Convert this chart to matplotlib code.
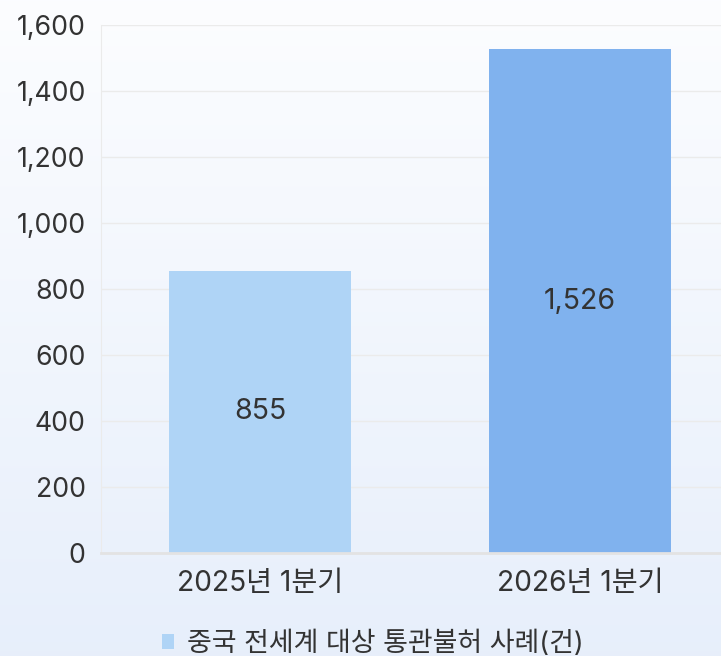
import numpy as np
import matplotlib
matplotlib.use("Agg")
import matplotlib.pyplot as plt
from matplotlib.patches import Patch

plt.rcParams['font.family'] = ['Inter', 'Noto Sans CJK KR', 'DejaVu Sans']

# 데이터
categories = ['2025년 1분기', '2026년 1분기']
values = [855, 1526]
bar_colors = ['#afd4f6', '#80b2ee']
series_name = '중국 전세계 대상 통관불허 사례(건)'
y_ticks = [0, 200, 400, 600, 800, 1000, 1200, 1400, 1600]

fig = plt.figure(figsize=(7.21, 6.56), dpi=100)

# 배경 그라데이션 (위: 흰색 -> 아래: 연한 파랑)
bg = fig.add_axes([0, 0, 1, 1], zorder=-10)
top = np.array([0.988, 0.992, 1.0])
bottom = np.array([0.906, 0.937, 0.984])
t = np.linspace(0, 1, 256)[:, None]
grad = top * (1 - t) + bottom * t
bg.imshow(grad[:, None, :], aspect='auto', extent=[0, 1, 0, 1])
bg.axis('off')

ax = fig.add_axes([101 / 721, 1 - 553 / 656, 620 / 721, 528 / 656])
ax.patch.set_alpha(0)

x = np.arange(len(categories))
bars = ax.bar(x, values, width=0.57, color=bar_colors, zorder=3)
for b, v in zip(bars, values):
    ax.text(b.get_x() + b.get_width() / 2, v / 2, f'{v:,}',
            ha='center', va='center', fontsize=20.5, color='#333333', zorder=4)

ax.set_xlim((101 - 260) / 320, (721 - 260) / 320)
ax.set_ylim(0, 1600)
ax.set_yticks(y_ticks)
ax.set_yticklabels([f'{v:,}' for v in y_ticks])
ax.set_xticks(x)
ax.set_xticklabels(categories)
ax.tick_params(axis='y', length=0, pad=11, labelsize=19.2, labelcolor='#333333')
ax.tick_params(axis='x', length=0, pad=12, labelsize=20.3, labelcolor='#333333')

ax.grid(axis='y', color='#ebebeb', linewidth=1, zorder=0)
for s in ['top', 'right']:
    ax.spines[s].set_visible(False)
ax.spines['left'].set_color('#ebebeb')
ax.spines['bottom'].set_color('#e3e3e3')
ax.spines['bottom'].set_linewidth(2)
ax.spines['bottom'].set_zorder(5)

handle = Patch(facecolor=bar_colors[0], edgecolor='none')
fig.legend([handle], [series_name], loc='center', bbox_to_anchor=(373 / 721, 1 - 644 / 656),
           frameon=False, fontsize=19.4, handlelength=0.45, handleheight=0.45,
           handletextpad=0.5, labelcolor='#333333')

fig.savefig('out.png', dpi=100)
